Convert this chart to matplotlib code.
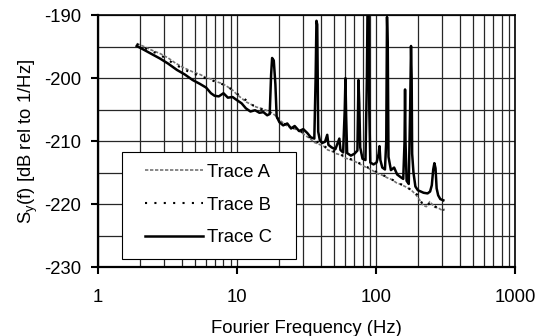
import matplotlib
matplotlib.use("Agg")
import matplotlib.pyplot as plt
from matplotlib.patches import Rectangle
from matplotlib.ticker import FixedLocator, NullFormatter

plt.rcParams['font.family'] = ['Liberation Sans', 'DejaVu Sans']
plt.rcParams['mathtext.fontset'] = 'custom'
plt.rcParams['mathtext.rm'] = 'Liberation Sans'
plt.rcParams['axes.unicode_minus'] = False

# Trace A - gray fine dotted
freq_a = [1.9, 2.1, 2.4, 2.8, 3.2, 3.6, 4.1, 4.8, 5.4, 6.0, 6.6, 7.2, 7.9, 8.6, 9.3,
          10.0, 10.8, 11.7, 12.7, 13.8, 15.0, 16.2, 17.5, 18.8, 20.0, 21.5, 23, 25, 27,
          29, 31, 33.5, 36, 39, 42, 45, 48, 52, 56, 60, 65, 70, 76, 82, 88, 95, 103,
          111, 120, 130, 140, 152, 165, 180, 195, 207, 218, 230, 244, 255, 265, 280,
          300, 310]
sy_a = [-194.5, -194.9, -195.5, -196.1, -196.8, -197.6, -198.3, -199.0, -199.4, -199.9,
        -200.2, -200.6, -200.9, -201.4, -201.9, -202.6, -203.2, -203.8, -204.2, -204.6,
        -204.8, -205.1, -205.4, -205.9, -206.6, -207.1, -207.6, -207.9, -208.2, -208.6,
        -209.1, -209.6, -210.2, -210.5, -210.8, -211.4, -211.6, -212.0, -212.2, -212.7,
        -212.9, -213.2, -213.6, -214.0, -214.3, -214.7, -215.2, -215.4, -215.8, -216.1,
        -216.6, -216.9, -217.3, -217.8, -218.6, -219.4, -220.2, -220.4, -219.6, -220.1,
        -220.5, -220.6, -221.0, -220.9]

# Trace B - black dotted
freq_b = [1.9, 2.2, 2.6, 3.0, 3.5, 4.0, 4.6, 5.2, 5.9, 6.7, 7.5, 8.4, 9.4, 10.5, 11.8,
          13.2, 14.8, 16.5, 18.5, 20.5, 23, 26, 29, 33, 37, 41, 46, 52, 58, 65, 73, 82,
          92, 103, 115, 128, 143, 160, 178, 198, 215, 232, 248, 262, 285, 310]
sy_b = [-194.6, -195.3, -196.0, -196.7, -197.7, -198.4, -199.1, -199.5, -200.0, -200.4,
        -200.8, -201.2, -202.0, -202.8, -203.6, -204.4, -204.9, -205.3, -205.8, -206.8,
        -207.6, -208.0, -208.5, -209.3, -210.0, -210.6, -211.3, -211.8, -212.3, -212.8,
        -213.3, -213.9, -214.4, -215.0, -215.5, -216.0, -216.6, -217.1, -217.7, -218.5,
        -219.9, -220.3, -219.7, -220.3, -220.7, -220.9]

# Trace C - solid, with line spikes
freq_c = [1.9, 2.1, 2.4, 2.8, 3.2, 3.7, 4.2, 4.8, 5.4, 6.0, 6.5, 6.9, 7.4, 8.0, 8.6,
          9.3, 10.0, 10.8, 11.6, 12.5, 13.5, 14.5, 15.5, 16.5, 17.2, 17.6, 17.9, 18.4,
          18.9, 19.3, 20.2, 21.5, 23, 24.5, 26, 28, 30, 32, 34, 36, 36.8, 37.3, 37.8,
          38.4, 39.5, 41, 43, 44.6, 45.5, 48, 51, 54.5, 55.5, 58, 59.6, 60.3, 61, 62,
          66, 70, 73.5, 74.8, 75.8, 77, 80, 84, 86, 87, 88.5, 89.5, 91, 96, 101, 104.5,
          106, 107.5, 111, 116, 118.5, 120, 121.5, 123, 128, 135, 142, 150, 157, 160.5,
          161.8, 163, 166, 172, 176, 178.6, 180.5, 182, 186, 192, 200, 210, 220, 235,
          245, 252, 258, 263, 268, 273, 280, 290, 305]
sy_c = [-194.9, -195.4, -196.1, -196.9, -197.7, -198.7, -199.4, -200.3, -200.9, -201.5,
        -202.4, -202.8, -202.9, -202.4, -203.1, -203.0, -203.5, -204.0, -204.8, -205.3,
        -205.1, -205.5, -205.4, -205.9, -205.7, -199.5, -196.8, -197.2, -201.0, -206.1,
        -207.0, -207.5, -207.2, -208.0, -207.6, -208.4, -208.1, -208.7, -209.4, -209.6,
        -200.0, -190.9, -191.5, -208.5, -209.9, -210.3, -210.1, -209.0, -210.6, -211.0,
        -211.3, -209.6, -211.4, -211.8, -205.0, -200.0, -206.0, -211.9, -212.3, -212.0,
        -211.5, -200.3, -204.0, -211.0, -212.8, -213.0, -200.0, -188.0, -188.0, -205.0,
        -213.4, -213.7, -213.4, -212.0, -210.8, -213.0, -214.2, -214.5, -210.0, -190.3,
        -195.0, -212.5, -214.6, -214.2, -215.3, -215.7, -216.0, -210.0, -201.8, -210.0,
        -216.3, -216.8, -205.0, -194.9, -200.0, -212.0, -215.0, -217.2, -217.8, -218.0,
        -218.2, -218.3, -218.0, -217.0, -214.5, -213.5, -214.3, -217.5, -218.6, -219.2,
        -219.4]

y_ticks = [-230, -220, -210, -200, -190]
x_ticks = [1, 10, 100, 1000]
x_tick_labels = ['1', '10', '100', '1000']

fig = plt.figure(figsize=(5.41, 3.36), dpi=100)
ax = fig.add_axes([0.181, 0.205, 0.771, 0.75])

la, = ax.plot(freq_a, sy_a, color='0.45', lw=1.2, ls=(0, (2, 1)), label='Trace A', zorder=2)
lb, = ax.plot(freq_b, sy_b, color='black', lw=1.5, ls=(0, (1, 3.5)), label='Trace B', zorder=3)
lc, = ax.plot(freq_c, sy_c, color='black', lw=1.8, label='Trace C', zorder=4)

ax.set_xscale('log')
ax.set_xlim(1, 1000)
ax.set_ylim(-230, -190)
ax.set_xticks(x_ticks)
ax.set_xticklabels(x_tick_labels)
ax.xaxis.set_minor_formatter(NullFormatter())
ax.set_yticks(y_ticks)
ax.yaxis.set_minor_locator(FixedLocator([-225, -215, -205, -195]))

ax.grid(True, which='both', color='0.15', lw=0.9)
ax.set_axisbelow(True)

ax.tick_params(axis='both', which='major', labelsize=13.3, length=5, width=1.5,
               direction='out', color='black')
ax.tick_params(axis='x', which='major', pad=11)
ax.tick_params(axis='y', which='major', pad=7)
ax.tick_params(which='minor', length=0)

for side in ['left', 'bottom']:
    ax.spines[side].set_linewidth(1.6)
for side in ['top', 'right']:
    ax.spines[side].set_linewidth(1.2)

ax.set_xlabel('Fourier Frequency (Hz)', fontsize=13.3, labelpad=10)
ax.set_ylabel(r'S$_\mathregular{y}$(f) [dB rel to 1/Hz]', fontsize=13.3, labelpad=3)

# legend box
ax.add_patch(Rectangle((0.0576, 0.032), 0.417, 0.424, transform=ax.transAxes,
                       facecolor='white', edgecolor='black', lw=0.8, zorder=5))
leg = ax.legend(handles=[la, lb, lc], loc='center', bbox_to_anchor=(0.266, 0.246),
                frameon=False, fontsize=13.3, handlelength=3.1, handletextpad=0.25,
                labelspacing=0.85)
leg.set_zorder(6)

fig.savefig('out.png', dpi=100)
